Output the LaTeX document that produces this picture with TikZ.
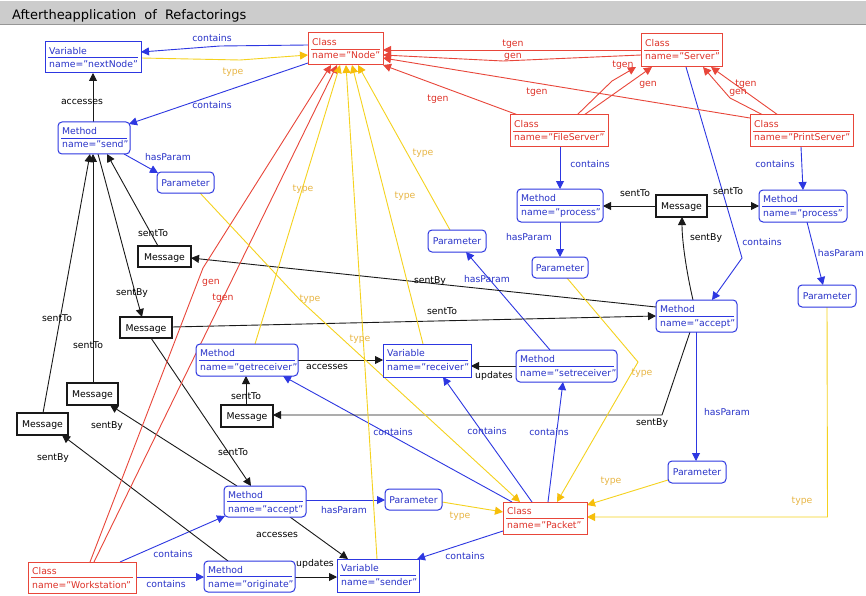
\documentclass[tikz,border=0pt]{standalone}
\usepackage{fontspec}
\setmainfont{DejaVu Sans}
\usetikzlibrary{arrows.meta,calc}
\pgfdeclarelayer{bg}
\pgfsetlayers{bg,main}
\definecolor{cblue}{RGB}{45,55,225}
\definecolor{tblue}{RGB}{40,50,200}
\definecolor{cred}{RGB}{232,70,58}
\definecolor{tred}{RGB}{222,50,40}
\definecolor{cyel}{RGB}{245,210,30}
\definecolor{ayel}{RGB}{246,190,10}
\definecolor{tyel}{RGB}{232,182,70}
\definecolor{cblk}{RGB}{25,25,25}
\definecolor{bargrey}{RGB}{204,204,204}
\definecolor{barline}{RGB}{150,150,150}
\tikzset{
  fnt/.style={font=\fontsize{9.3}{11}\selectfont},
  box/.style={draw, fill=white, inner sep=0pt, outer sep=0pt, line width=1pt},
  classbox/.style={box, draw=cred},
  classbox sep/.style={draw=cred, line width=0.8pt},
  classbox txt/.style={fnt, text=tred, inner sep=0pt, anchor=base west},
  varbox/.style={box, draw=cblue},
  varbox sep/.style={draw=cblue, line width=0.8pt},
  varbox txt/.style={fnt, text=tblue, inner sep=0pt, anchor=base west},
  methbox/.style={box, draw=cblue, rounded corners=4pt},
  methbox sep/.style={draw=cblue, line width=0.8pt},
  methbox txt/.style={fnt, text=tblue, inner sep=0pt, anchor=base west},
  parbox/.style={box, draw=cblue, rounded corners=4pt, fnt, text=tblue, text height=7pt, text depth=0pt},
  msgbox/.style={box, draw=cblk, line width=1.2pt, fnt, text=black, text height=7pt, text depth=0pt},
  lbl/.style={fnt, inner sep=0pt, text height=7pt, text depth=0pt},
  lb/.style={lbl, text=tblue},
  lk/.style={lbl, text=black},
  lr/.style={lbl, text=tred},
  ly/.style={lbl, text=tyel},
  eb/.style={line width=0.9pt, draw=cblue, -{Triangle[length=8pt,width=8pt]}},
  ek/.style={line width=0.9pt, draw=cblk, -{Triangle[length=8pt,width=8pt]}},
  er/.style={line width=0.9pt, draw=cred, -{Triangle[length=8pt,width=8pt]}},
  ey/.style={line width=0.9pt, draw=cyel, -{Triangle[length=8pt,width=8pt,color=ayel]}},
}
\newcommand\ubox[8]{%
  \node[#2, minimum width={(#5)-(#3)}, minimum height={(#6)-(#4)}] (#1) at ({((#3)+(#5))/2},{((#4)+(#6))/2}) {};
  \draw[#2 sep] ($(#1.west)+(3,0)$) -- ($(#1.east)+(-3,0)$);
  \node[#2 txt] (#1-a) at ($(#1.north west)+(4,12.5)$) {#7};
  \node[#2 txt] (#1-b) at ($(#1.north west)+(4,26)$) {#8};
}
\newcommand\onebox[7]{%
  \node[#2, minimum width={(#5)-(#3)}, minimum height={(#6)-(#4)}] (#1) at ({((#3)+(#5))/2},{((#4)+(#6))/2}) {#7};
}
\begin{document}
\begin{tikzpicture}[x=1pt,y=-1pt]
\useasboundingbox (0,0) rectangle (866,596);
\clip (0,0) rectangle (866,596);
\begin{pgfonlayer}{bg}
\fill[white] (0,0) rectangle (866,596);
\end{pgfonlayer}
% title bar
\fill[bargrey] (0,1.5) rectangle (866,24);
\draw[barline, line width=1pt] (0,24.5) -- (866,24.5);
\node[anchor=base west, inner sep=0pt, font=\fontsize{13}{15}\selectfont] (title) at (12,20) {Aftertheapplication\hspace{8pt}of\hspace{8pt}Refactorings};

% ---------- boxes ----------
\ubox{nextNode}{varbox}{45}{42}{141}{73}{Variable}{name="nextNode"}
\ubox{Node}{classbox}{308}{33}{383}{65}{Class}{name="Node"}
\ubox{Server}{classbox}{641}{34}{722}{67}{Class}{name="Server"}
\ubox{FileServer}{classbox}{510}{115}{608}{147}{Class}{name="FileServer"}
\ubox{PrintServer}{classbox}{750}{115}{853}{147}{Class}{name="PrintServer"}
\ubox{send}{methbox}{58}{122}{130}{154}{Method}{name="send"}
\onebox{ParamSend}{parbox}{157}{172}{214}{193}{Parameter}
\ubox{processL}{methbox}{517}{189}{603}{222}{Method}{name="process"}
\onebox{MsgTop}{msgbox}{656}{195}{707}{217}{Message}
\ubox{processR}{methbox}{759}{190}{847}{222}{Method}{name="process"}
\onebox{ParamA}{parbox}{428}{230}{486}{252}{Parameter}
\onebox{ParamProcL}{parbox}{532}{257}{588}{278}{Parameter}
\onebox{ParamProcR}{parbox}{798}{285}{856}{307}{Parameter}
\onebox{MsgA}{msgbox}{138}{246}{191}{267}{Message}
\onebox{MsgB}{msgbox}{120}{317}{172}{338}{Message}
\ubox{acceptR}{methbox}{656}{300}{737}{332}{Method}{name="accept"}
\ubox{getreceiver}{methbox}{196}{344}{298}{376}{Method}{name="getreceiver"}
\ubox{receiver}{varbox}{383}{344}{471}{377}{Variable}{name="receiver"}
\ubox{setreceiver}{methbox}{516}{350}{617}{382}{Method}{name="setreceiver"}
\onebox{MsgC}{msgbox}{221}{405}{273}{427}{Message}
\onebox{MsgD}{msgbox}{67}{383}{118}{405}{Message}
\onebox{MsgE}{msgbox}{17}{413}{68}{435}{Message}
\onebox{ParamAcc}{parbox}{668}{461}{726}{483}{Parameter}
\ubox{acceptL}{methbox}{224}{486}{306}{517}{Method}{name="accept"}
\onebox{ParamL}{parbox}{385}{489}{442}{510}{Parameter}
\ubox{Packet}{classbox}{503}{502}{587}{534}{Class}{name="Packet"}
\ubox{Workstation}{classbox}{28}{562}{136}{593}{Class}{name="Workstation"}
\ubox{originate}{methbox}{204}{561}{295}{592}{Method}{name="originate"}
\ubox{sender}{varbox}{337}{559}{419}{592}{Variable}{name="sender"}

% ---------- connectors ----------
\begin{pgfonlayer}{bg}
% blue: contains / hasParam
\draw[eb] ($(Node.north west)+(0,12)$) -- (220,46) -- ($(nextNode.north west)+(96,10)$);
\draw[eb] ($(Node.north west)+(0,30)$) -- ($(send.north west)+(71,2)$);
\draw[eb] ($(send.north west)+(66,32)$) -- ($(ParamSend.north west)+(1,1)$);
\draw[eb] ($(FileServer.north west)+(50,32)$) -- ($(processL.north west)+(43,0)$);
\draw[eb] ($(PrintServer.north west)+(51,32)$) -- ($(processR.north west)+(44,0)$);
\draw[eb] ($(Server.north west)+(45,33)$) -- (742,258) -- ($(acceptR.north west)+(56,0)$);
\draw[eb] ($(processL.north west)+(43,33)$) -- ($(ParamProcL.north west)+(28,0)$);
\draw[eb] ($(processR.north west)+(48,32)$) -- ($(ParamProcR.north west)+(25,0)$);
\draw[eb] ($(setreceiver.north west)+(34,0)$) -- ($(ParamA.north west)+(38,22)$);
\draw[eb] ($(acceptR.north west)+(40,32)$) -- ($(ParamAcc.north west)+(28,0)$);
\draw[eb] ($(Packet.north west)+(9,0)$) -- ($(getreceiver.north west)+(87,32)$);
\draw[eb] ($(Packet.north west)+(29,0)$) -- ($(receiver.north west)+(60,33)$);
\draw[eb] ($(Packet.north west)+(45,0)$) -- ($(setreceiver.north west)+(47,32)$);
\draw[eb] ($(Packet.north west)+(0,29)$) -- ($(sender.north west)+(80,0)$);
\draw[eb] ($(Workstation.north west)+(92,0)$) -- ($(acceptL.north west)+(1,30)$);
\draw[eb] ($(Workstation.north west)+(108,15)$) -- ($(originate.north west)+(0,16)$);
\draw[eb] ($(acceptL.north west)+(82,14)$) -- ($(ParamL.north west)+(0,11)$);
% black
\draw[ek] ($(send.north west)+(35,0)$) -- ($(nextNode.north west)+(48,31)$);
\draw[ek] ($(MsgA.north west)+(20,0)$) -- ($(send.north west)+(49,32)$);
\draw[ek] ($(send.north west)+(40,32)$) .. controls (112,205) and (130,275) .. ($(MsgB.north west)+(22,0)$);
\draw[ek] ($(MsgE.north west)+(26,0)$) -- ($(send.north west)+(32,32)$);
\draw[ek] ($(MsgD.north west)+(26,0)$) -- ($(send.north west)+(35,32)$);
\draw[ek] ($(acceptR.north west)+(0,7)$) -- ($(MsgA.north west)+(53,12)$);
\draw[ek] ($(MsgB.north west)+(52,10)$) -- ($(acceptR.north west)+(0,16)$);
\draw[ek] ($(MsgTop.north west)+(0,11)$) -- ($(processL.north west)+(86,17)$);
\draw[ek] ($(MsgTop.north west)+(51,11)$) -- ($(processR.north west)+(0,16)$);
\draw[ek] ($(acceptR.north west)+(37,0)$) .. controls (686,270) and (682,240) .. ($(MsgTop.north west)+(26,22)$);
\draw[ek] ($(acceptR.north west)+(34,32)$) -- (662,415) -- ($(MsgC.north west)+(52,10)$);
\draw[ek] ($(MsgC.north west)+(25,0)$) -- ($(getreceiver.north west)+(50,32)$);
\draw[ek] ($(getreceiver.north west)+(102,16)$) -- ($(receiver.north west)+(0,16)$);
\draw[ek] ($(setreceiver.north west)+(0,16)$) -- ($(receiver.north west)+(88,22)$);
\draw[ek] ($(MsgB.north west)+(31,21)$) -- ($(acceptL.north west)+(27,0)$);
\draw[ek] ($(acceptL.north west)+(13,0)$) -- ($(MsgD.north west)+(43,22)$);
\draw[ek] ($(originate.north west)+(24,0)$) -- ($(MsgE.north west)+(45,22)$);
\draw[ek] ($(acceptL.north west)+(66,31)$) -- ($(sender.north west)+(11,0)$);
\draw[ek] ($(originate.north west)+(91,16)$) -- ($(sender.north west)+(0,18)$);
% red
\draw[er] ($(Server.north west)+(0,16)$) -- ($(Node.north west)+(75,17)$);
\draw[er] ($(Server.north west)+(0,21)$) -- (503,61) -- ($(Node.north west)+(75,22)$);
\draw[er] ($(FileServer.north west)+(8,0)$) -- ($(Node.north west)+(75,32)$);
\draw[er] ($(PrintServer.north west)+(0,3)$) -- ($(Node.north west)+(75,25)$);
\draw[er] ($(FileServer.north west)+(67,0)$) -- (612,81) -- ($(Server.north west)+(-5,33)$);
\draw[er] ($(FileServer.north west)+(74,0)$) -- ($(Server.north west)+(11,33)$);
\draw[er] ($(PrintServer.north west)+(13,0)$) -- (730,98) -- ($(Server.north west)+(62,33)$);
\draw[er] ($(PrintServer.north west)+(28,0)$) -- ($(Server.north west)+(70,33)$);
\draw[er] ($(Workstation.north west)+(62,0)$) -- (203,268) -- ($(Node.north west)+(23,32)$);
\draw[er] ($(Workstation.north west)+(66,0)$) -- ($(Node.north west)+(29,32)$);
% yellow
\draw[ey] ($(nextNode.north west)+(96,16)$) -- (240,60) -- ($(Node.north west)+(0,22)$);
\draw[ey] ($(getreceiver.north west)+(59,0)$) -- ($(Node.north west)+(32,32)$);
\draw[ey] ($(sender.north west)+(40,0)$) -- ($(Node.north west)+(38,32)$);
\draw[ey] ($(receiver.north west)+(40,0)$) -- ($(Node.north west)+(44,32)$);
\draw[ey] ($(ParamA.north west)+(22,0)$) -- ($(Node.north west)+(50,32)$);
\draw[ey] ($(ParamSend.north west)+(43,21)$) -- (300,300) -- ($(Packet.north west)+(17,0)$);
\draw[ey] ($(ParamProcL.north west)+(35,21)$) -- (638,362) -- ($(Packet.north west)+(54,0)$);
\draw[ey] ($(ParamL.north west)+(57,13)$) -- ($(Packet.north west)+(0,10)$);
\draw[ey] ($(ParamAcc.north west)+(0,19)$) -- ($(Packet.north west)+(84,3)$);
\draw[ey] ($(ParamProcR.north west)+(29,22)$) -- (827.5,517) -- ($(Packet.north west)+(84,15)$);
\end{pgfonlayer}

% ---------- labels ----------
\node[lb] (l1) at (212,38) {contains};
\node[lb] (l2) at (212,105) {contains};
\node[lb] (l3) at (590,164) {contains};
\node[lb] (l4) at (775,164) {contains};
\node[lb] (l5) at (762,242) {contains};
\node[lb] (l6) at (393,432) {contains};
\node[lb] (l7) at (487,431) {contains};
\node[lb] (l8) at (549,432) {contains};
\node[lb] (l9) at (465,556) {contains};
\node[lb] (l10) at (173,554) {contains};
\node[lb] (l11) at (166,584) {contains};
\node[lb] (l12) at (168,157) {hasParam};
\node[lb] (l13) at (529,237) {hasParam};
\node[lb, anchor=east] (l14) at (864,253) {hasParam};
\node[lb] (l15) at (487,279) {hasParam};
\node[lb] (l16) at (727,412) {hasParam};
\node[lb] (l17) at (344,510) {hasParam};
\node[lk] (k1) at (82,101) {accesses};
\node[lk] (k2) at (635,193) {sentTo};
\node[lk] (k3) at (728,191) {sentTo};
\node[lk] (k4) at (706,237) {sentBy};
\node[lk] (k5) at (430,280) {sentBy};
\node[lk] (k6) at (442,311) {sentTo};
\node[lk] (k7) at (153,233) {sentTo};
\node[lk] (k8) at (132,292) {sentBy};
\node[lk] (k9) at (57,318) {sentTo};
\node[lk] (k10) at (88,345) {sentTo};
\node[lk] (k11) at (327,366) {accesses};
\node[lk] (k12) at (494,375) {updates};
\node[lk] (k13) at (246,396) {sentTo};
\node[lk] (k14) at (652,422) {sentBy};
\node[lk] (k15) at (107,425) {sentBy};
\node[lk] (k16) at (53,457) {sentBy};
\node[lk] (k17) at (233,452) {sentTo};
\node[lk] (k18) at (277,534) {accesses};
\node[lk] (k19) at (315,563) {updates};
\node[lr] (r1) at (513,43) {tgen};
\node[lr] (r2) at (513,55) {gen};
\node[lr] (r3) at (438,98) {tgen};
\node[lr] (r4) at (537,91) {tgen};
\node[lr] (r5) at (623,64) {tgen};
\node[lr] (r6) at (648,83) {gen};
\node[lr] (r7) at (746,83) {tgen};
\node[lr] (r8) at (738,91) {gen};
\node[lr] (r9) at (211,281) {gen};
\node[lr] (r10) at (223,297) {tgen};
\node[ly] (y1) at (233,71) {type};
\node[ly] (y2) at (303,188) {type};
\node[ly] (y3) at (405,195) {type};
\node[ly] (y4) at (423,152) {type};
\node[ly] (y5) at (310,298) {type};
\node[ly] (y6) at (360,338) {type};
\node[ly] (y7) at (642,372) {type};
\node[ly] (y8) at (611,480) {type};
\node[ly] (y9) at (802,500) {type};
\node[ly] (y10) at (460,515) {type};
\end{tikzpicture}
\end{document}
